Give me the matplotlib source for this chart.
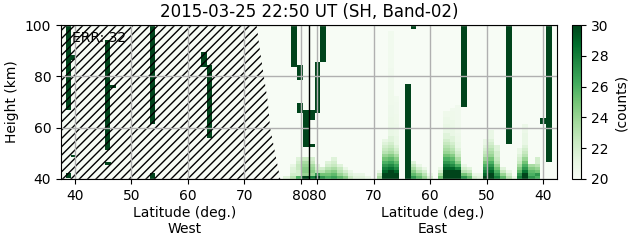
import numpy as np
import matplotlib
matplotlib.use('Agg')
import matplotlib.pyplot as plt
import matplotlib.transforms as mtransforms

# orbit reaches this latitude, west half goes up, east half comes back down
max_lat = 81.5
lat_start = 37.5

west_ticks = [40, 50, 60, 70, 80]
east_ticks = [80, 70, 60, 50, 40]
height_ticks = [40, 60, 80, 100]
cbar_ticks = [20, 22, 24, 26, 28, 30]
vmin, vmax = 20, 30
background = 20.0
bar_value = 30.0

# saturated streaks: side, lat from, lat to, height from, height to (km)
bar_side = ['W'] * 15 + ['E'] * 10
bar_lat0 = [38.4, 39.3, 38.4, 39.3, 45.3, 46.2, 45.3, 53.3, 53.3, 62.3, 63.4, 78.3, 79.4, 79.4, 80.4,
            81.5, 81.5, 80.4, 79.5, 63.4, 64.5, 54.5, 46.5, 39.4, 40.5]
bar_lat1 = [39.3, 40.2, 39.3, 40.2, 46.2, 47.3, 46.3, 54.2, 54.2, 63.4, 64.3, 79.4, 80.4, 80.4, 81.5,
            80.4, 80.4, 79.5, 78.5, 62.5, 63.4, 53.5, 45.5, 38.4, 39.4]
bar_h0 = [66.9, 86.4, 40.4, 48.6, 51.3, 75.6, 45.5, 61.7, 40.0, 83.8, 55.9, 83.8, 78.6, 65.6, 52.6,
          63.0, 52.6, 65.6, 85.7, 98.7, 40.0, 68.0, 53.9, 46.7, 61.4]
bar_h1 = [100, 88.3, 42.3, 49.4, 94.2, 76.6, 46.7, 100, 42.3, 89.4, 84.4, 100, 84.4, 69.7, 66.9,
          66.9, 53.6, 85.7, 100, 100, 77.3, 100, 100, 100, 63.6]

# low-altitude glow, one column per entry, values in 1.2 km layers from 40 km up
layer_km = 1.2
plume_side = ['W', 'W', 'W', 'W', 'E', 'E', 'E', 'E', 'E', 'E', 'E', 'E', 'E', 'E', 'E',
              'E', 'E', 'E', 'E', 'E', 'E', 'E', 'E', 'E', 'E', 'E', 'E', 'E', 'E', 'E',
              'E', 'E', 'E', 'E', 'E', 'E', 'E', 'E', 'E', 'E', 'E', 'E']
plume_lat0 = [76.9, 78.1, 79.2, 80.3, 81.5, 80.4, 79.6, 78.7, 77.6, 76.5, 75.5, 74.6, 73.7, 72.6,
              71.6, 69.5, 68.5, 67.5, 66.4, 64.5, 63.4, 62.5, 61.5, 60.6, 58.7, 57.7, 56.5, 55.6,
              54.5, 53.5, 52.6, 51.7, 50.6, 49.7, 48.7, 47.6, 46.5, 45.5, 44.6, 43.7, 42.6, 41.4]
plume_lat1 = [78.1, 79.2, 80.3, 81.5, 80.4, 79.6, 78.7, 77.6, 76.5, 75.5, 74.6, 73.7, 72.6, 71.6,
              70.5, 68.5, 67.5, 66.4, 65.5, 63.4, 62.5, 61.5, 60.6, 59.5, 57.7, 56.5, 55.6, 54.5,
              53.5, 52.6, 51.7, 50.6, 49.7, 48.7, 47.6, 46.5, 45.5, 44.6, 43.7, 42.6, 41.4, 40.5]
plume_vals = [
    [21.5],
    [23, 22, 21.5, 21.5, 21],
    [26, 22, 22, 22.5, 22.5, 22, 21.5],
    [30, 24, 24.5, 24.5, 24, 23.5, 22.5],
    [28, 24, 24.5, 24, 23.5, 22.5, 22],
    [30, 27, 23, 22, 21.5],
    [27, 25, 23, 22],
    [26, 25, 24, 23, 22, 21.5],
    [26.5, 25.5, 24.5, 23.5, 22.5, 22, 21.5],
    [25.5, 24, 23, 22.5, 21.5],
    [24.5, 23, 22, 21],
    [22.5, 21.5, 21],
    [21.5, 21],
    [21.5, 21],
    [21],
    [23.5, 22.5, 21],
    [30, 30, 29, 28, 27, 26, 25, 24, 23, 22.5, 22, 21.5, 21],
    [30, 30, 30, 28.5, 27.5, 26.5, 25.5, 24.5, 23.5, 23, 22.5, 22, 21.5, 21.5, 21, 21, 21, 20.8,
     20.8, 20.8, 20.7, 20.7, 20.7, 20.7, 20.6, 20.6, 20.6, 20.6, 20.6, 20.5, 20.5, 20.5, 20.5,
     20.5, 20.5, 20.5, 20.4, 20.4, 20.4, 20.4, 20.4, 20.4, 20.4, 20.4, 20.4, 20.4, 20.4, 20.4],
    [30, 30, 29, 27.5, 26.5, 25.5, 24.5, 23.5, 22.5, 22, 21.5, 21, 21, 21, 20.8, 20.8, 20.7, 20.7,
     20.6, 20.6, 20.6, 20.5, 20.5, 20.5, 20.5, 20.4, 20.4],
    [],
    [27, 25.5, 24.5, 23.5, 22.5, 21.5],
    [25.5, 24.5, 23, 22, 21],
    [24, 23, 22, 21],
    [22, 21],
    [25, 23.5, 22, 21],
    [30, 30, 30, 29, 28, 27, 26, 25, 24, 23.5, 23, 22.5, 22, 21.5, 21.5, 21, 21, 21, 20.8, 20.8,
     20.6, 20.6],
    [30, 30, 30, 29, 27.5, 26.5, 25.5, 24.5, 23.5, 23, 22.5, 22, 21.5, 21.5, 21, 21, 21, 20.8,
     20.8, 20.6, 20.6, 20.6, 20.5],
    [30, 30, 30, 28, 26, 24.5, 23.5, 22.5, 22, 21.5, 21, 21, 20.8, 20.8, 20.7, 20.6, 20.6, 20.5,
     20.5, 20.5, 20.5, 20.5, 20.5, 20.5],
    [27, 25, 23, 22, 21],
    [25.5, 24, 22.5, 21.5],
    [22, 21],
    [21.5, 21],
    [30, 29, 28, 27, 26, 25, 24, 23, 22.5, 22, 21.5, 21, 21],
    [30, 30, 29, 28, 27, 26, 25, 24, 23.5, 23, 22.5, 22, 21.5, 21, 21, 21],
    [28, 27, 26, 25, 24, 23, 22.5, 22, 22, 21.5, 21.5],
    [25.5, 24, 22.5, 21.5],
    [23, 22, 21],
    [21],
    [28, 27, 25.5, 24.5, 23.5, 22.5, 22, 21.5, 21, 21],
    [30, 30, 28.5, 27, 26, 25, 24, 23, 22.5, 22, 21.5, 21, 21, 21, 21, 20.8, 20.8, 20.8],
]
# the two most eastern columns, after the list above
plume_side += ['E', 'E']
plume_lat0 += [39.45, 38.4]
plume_lat1 += [38.4, 37.5]
plume_vals += [[27, 26, 25.5, 24.5, 23.5], [26, 27, 25, 24, 23, 22, 22]]

# day side (hatched): height and latitude where it ends
hatch_height = [100, 90, 80, 70, 60, 50, 40]
hatch_lat = [72.2, 72.8, 73.5, 74.2, 74.6, 75.5, 76.4]


def track(side, lat):
    # one running x coordinate: west goes up in latitude, east comes back down
    return lat if side == 'W' else 2 * max_lat - lat


x_end = track('E', lat_start)
xe = np.arange(lat_start, x_end + 0.05, 0.1)
ye = np.arange(40, 100.01, 0.2)
xc = (xe[:-1] + xe[1:]) / 2
yc = (ye[:-1] + ye[1:]) / 2
grid = np.full((len(yc), len(xc)), background)

for side, a, b, vals in zip(plume_side, plume_lat0, plume_lat1, plume_vals):
    s0, s1 = sorted([track(side, a), track(side, b)])
    cols = (xc >= s0) & (xc < s1)
    for k, v in enumerate(vals):
        rows = (yc >= 40 + k * layer_km) & (yc < 40 + (k + 1) * layer_km)
        grid[np.ix_(rows, cols)] = v

for side, a, b, h0, h1 in zip(bar_side, bar_lat0, bar_lat1, bar_h0, bar_h1):
    s0, s1 = sorted([track(side, a), track(side, b)])
    cols = (xc >= s0) & (xc < s1)
    rows = (yc >= h0) & (yc < h1)
    grid[np.ix_(rows, cols)] = bar_value

fig = plt.figure(figsize=(6.31, 2.43), dpi=100)
ax = fig.add_axes([0.0967, 0.2634, 0.786, 0.6336])
cax = fig.add_axes([0.9065, 0.2634, 0.0143, 0.6336])

mesh = ax.pcolormesh(xe, ye, grid, cmap='Greens', vmin=vmin, vmax=vmax)
ax.fill_betweenx(hatch_height, lat_start, hatch_lat, facecolor='none', edgecolor='black',
                 linewidth=0, hatch='////')
ax.axvline(max_lat, color='black', linewidth=1)

ax.set_xlim(lat_start, x_end)
ax.set_ylim(40, 100)
ax.set_xticks([track('W', t) for t in west_ticks] + [track('E', t) for t in east_ticks])
ax.set_xticklabels([str(t) for t in west_ticks + east_ticks])
ax.set_yticks(height_ticks)
ax.grid(True, color='#b0b0b0', linewidth=1)
ax.set_ylabel('Height (km)')
ax.set_title('2015-03-25 22:50 UT (SH, Band-02)', fontsize=12)
ax.text(0.022, 0.915, 'ERR: 32', transform=ax.transAxes, ha='left', va='center', fontsize=10)

blend = mtransforms.blended_transform_factory(ax.transData, ax.transAxes)
ax.text((lat_start + max_lat) / 2, -0.175, 'Latitude (deg.)\nWest', transform=blend,
        ha='center', va='top', fontsize=10)
ax.text((max_lat + x_end) / 2, -0.175, 'Latitude (deg.)\nEast', transform=blend,
        ha='center', va='top', fontsize=10)

cb = fig.colorbar(mesh, cax=cax, ticks=cbar_ticks)
cb.set_label('(counts)')

fig.savefig('out.png', dpi=100)
